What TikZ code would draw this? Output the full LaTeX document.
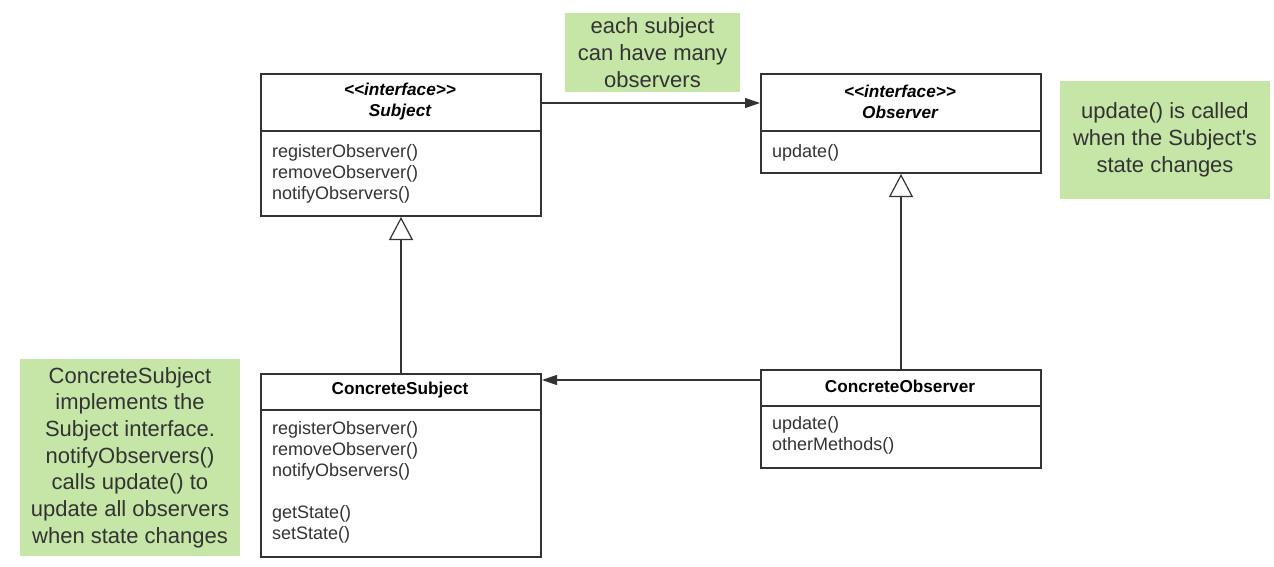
\documentclass[tikz,border=0pt]{standalone}
\usepackage{fontspec}
\setmainfont{Liberation Sans}
\usetikzlibrary{arrows.meta,calc}
\definecolor{ink}{HTML}{333333}
\definecolor{notegreen}{HTML}{C5E6A7}
\newcommand{\titlefont}{\fontsize{17.2}{21}\selectfont}
\newcommand{\boxfont}{\fontsize{18}{21}\selectfont}
\newcommand{\notefont}{\fontsize{22}{26.7}\selectfont}
\begin{document}
\begin{tikzpicture}[x=1pt,y=-1pt,
  umlbox/.style={draw=ink, line width=2pt, fill=white, inner sep=0pt, anchor=north west},
  divider/.style={draw=ink, line width=2pt},
  titletext/.style={text=black, font=\titlefont\bfseries, align=center, inner sep=0pt},
  methtext/.style={text=ink, font=\boxfont, align=left, anchor=north west, inner sep=0pt},
  note/.style={fill=notegreen, text=ink, font=\notefont, align=center, inner sep=0pt},
  assoc/.style={draw=ink, line width=1.2pt, -{Triangle[length=15pt,width=10pt]}},
  realize/.style={draw=ink, line width=1.2pt, -{Triangle[open,length=23pt,width=24pt,fill=white]}}
]
\useasboundingbox (0,0) rectangle (1274,567);

% boxes
\node[umlbox, minimum width=280pt, minimum height=142pt] (subj) at (260,73) {};
\node[umlbox, minimum width=280pt, minimum height=99pt] (obs) at (760,73) {};
\node[umlbox, minimum width=280pt, minimum height=183pt] (csubj) at (260,373) {};
\node[umlbox, minimum width=280pt, minimum height=98pt] (cobs) at (760,369) {};

% dividers
\draw[divider] ($(subj.north west)+(0,58)$) -- ($(subj.north east)+(0,58)$);
\draw[divider] ($(obs.north west)+(0,58)$) -- ($(obs.north east)+(0,58)$);
\draw[divider] ($(csubj.north west)+(0,37)$) -- ($(csubj.north east)+(0,37)$);
\draw[divider] ($(cobs.north west)+(0,37)$) -- ($(cobs.north east)+(0,37)$);

% titles
\node[titletext] (subjT) at (400,102) {\itshape{<}{<}interface{>}{>}\\\itshape Subject};
\node[titletext] (obsT) at (900,102) {\itshape{<}{<}interface{>}{>}\\\itshape Observer};
\node[titletext] (csubjT) at (400,390) {ConcreteSubject};
\node[titletext] (cobsT) at (900,386) {ConcreteObserver};

% methods
\node[methtext] (subjM) at (272,144) {registerObserver()\\removeObserver()\\notifyObservers()};
\node[methtext] (obsM) at (772,144) {update()};
\node[methtext] (csubjM) at (272,421) {registerObserver()\\removeObserver()\\notifyObservers()\\[21pt]getState()\\setState()};
\node[methtext] (cobsM) at (772,416) {update()\\otherMethods()};

% notes
\node[note, minimum width=175pt, minimum height=79pt] (n1) at (652.5,52.5) {each subject\\can have many\\observers};
\node[note, minimum width=210pt, minimum height=118pt] (n2) at (1165,140) {update() is called\\when the Subject\textquotesingle s\\state changes};
\node[note, minimum width=220pt, minimum height=197pt] (n3) at (130,457.5) {ConcreteSubject\\implements the\\Subject interface.\\notifyObservers()\\calls update() to\\update all observers\\when state changes};

% connectors
\coordinate (a1) at ($(subj.north east)+(0,30)$);
\draw[assoc] (a1) -- (a1 -| obs.west);
\coordinate (a2) at ($(cobs.north west)+(0,11)$);
\draw[assoc] (a2) -- (a2 -| csubj.east);
\draw[realize] (csubj.north) -- (subj.south);
\draw[realize] (cobs.north) -- (obs.south);
\end{tikzpicture}
\end{document}
